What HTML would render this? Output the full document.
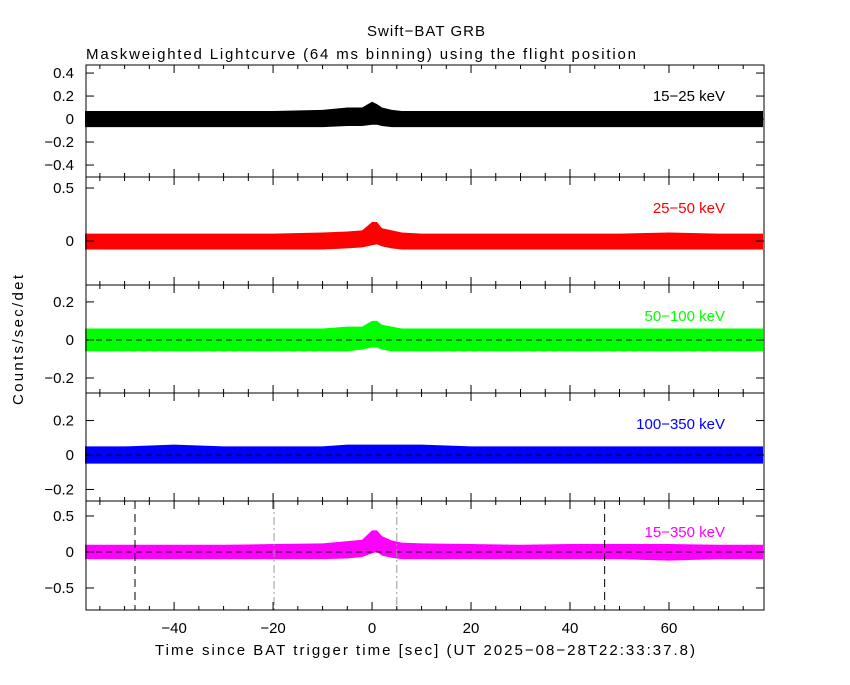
<!DOCTYPE html>
<html><head><meta charset="utf-8"><style>
body{margin:0;background:#fff}
svg text{font-family:"Liberation Sans",sans-serif;font-size:15px}
</style></head><body>
<svg id="c" width="850" height="680" xmlns="http://www.w3.org/2000/svg">
<rect width="850" height="680" fill="#fff"/>
<text x="367" y="36" textLength="118" lengthAdjust="spacing">Swift−BAT GRB</text>
<text x="86" y="59" textLength="550" lengthAdjust="spacing">Maskweighted Lightcurve (64 ms binning) using the flight position</text>
<text x="155" y="655" textLength="540" lengthAdjust="spacing">Time since BAT trigger time [sec] (UT 2025−08−28T22:33:37.8)</text>
<text transform="translate(23,405) rotate(-90)" textLength="130" lengthAdjust="spacing">Counts/sec/det</text>
</svg>
<script>
const times=[-58,-50,-40,-30,-20,-10,-5,-2,0,1,2,4,6,10,20,30,40,50,60,70,79];
const up1=[0.07,0.07,0.07,0.07,0.07,0.08,0.1,0.1,0.15,0.13,0.1,0.08,0.07,0.07,0.07,0.07,0.07,0.07,0.07,0.07,0.07];
const lo1=[-0.07,-0.07,-0.07,-0.07,-0.07,-0.07,-0.06,-0.06,-0.05,-0.05,-0.06,-0.07,-0.07,-0.07,-0.07,-0.07,-0.07,-0.07,-0.07,-0.07,-0.07];
const up2=[0.07,0.07,0.07,0.07,0.07,0.08,0.09,0.1,0.18,0.18,0.12,0.1,0.08,0.07,0.07,0.07,0.07,0.07,0.08,0.07,0.07];
const lo2=[-0.08,-0.08,-0.08,-0.08,-0.08,-0.08,-0.07,-0.06,-0.04,-0.03,-0.05,-0.07,-0.08,-0.08,-0.08,-0.08,-0.08,-0.08,-0.08,-0.08,-0.08];
const up3=[0.06,0.06,0.06,0.06,0.06,0.06,0.07,0.07,0.1,0.1,0.08,0.07,0.06,0.06,0.06,0.06,0.06,0.06,0.06,0.06,0.06];
const lo3=[-0.06,-0.06,-0.06,-0.06,-0.06,-0.06,-0.06,-0.05,-0.04,-0.04,-0.05,-0.06,-0.06,-0.06,-0.06,-0.06,-0.06,-0.06,-0.06,-0.06,-0.06];
const up4=[0.05,0.05,0.06,0.05,0.05,0.05,0.06,0.06,0.06,0.06,0.06,0.06,0.06,0.06,0.05,0.05,0.05,0.05,0.05,0.05,0.05];
const lo4=[-0.05,-0.05,-0.05,-0.05,-0.05,-0.05,-0.05,-0.05,-0.05,-0.05,-0.05,-0.05,-0.05,-0.05,-0.05,-0.05,-0.05,-0.05,-0.05,-0.05,-0.05];
const up5=[0.1,0.1,0.1,0.1,0.11,0.12,0.15,0.17,0.3,0.3,0.22,0.16,0.13,0.12,0.11,0.1,0.11,0.11,0.11,0.1,0.1];
const lo5=[-0.1,-0.1,-0.1,-0.1,-0.1,-0.1,-0.09,-0.07,-0.02,0,-0.05,-0.08,-0.1,-0.1,-0.1,-0.1,-0.1,-0.1,-0.12,-0.1,-0.1];
const labels=["15−25 keV","25−50 keV","50−100 keV","100−350 keV","15−350 keV"];
const colors=["#000","#f00","#0f0","#00f","#f0f"];
const yTicks=[[0.4,0.2,0,-0.2,-0.4],[0.5,0],[0.2,0,-0.2],[0.2,0,-0.2],[0.5,0,-0.5]];
const yTickLabels=[["0.4","0.2","0","−0.2","−0.4"],["0.5","0"],["0.2","0","−0.2"],["0.2","0","−0.2"],["0.5","0","−0.5"]];
const xTicks=[-40,-20,0,20,40,60];
const xTickLabels=["−40","−20","0","20","40","60"];
const vDash=[-47.9,47];
const vDashDot=[-19.8,5.0];
const panels=[{t:65,b:177,y0:0.47,y1:-0.504},{t:177,b:285,y0:0.604,y1:-0.415},{t:285,b:393,y0:0.289,y1:-0.279},{t:393,b:501,y0:0.36,y1:-0.267},{t:501,b:610,y0:0.708,y1:-0.806}];
const ups=[up1,up2,up3,up4,up5],los=[lo1,lo2,lo3,lo4,lo5];
const X0=86,X1=764,T0=-57.8,T1=79.2;
const xs=t=>X0+(t-T0)/(T1-T0)*(X1-X0);
const svg=document.getElementById('c');
const NS="http://www.w3.org/2000/svg";
function mk(tag,at){const e=document.createElementNS(NS,tag);for(const k in at)e.setAttribute(k,at[k]);svg.appendChild(e);return e;}
panels.forEach((p,i)=>{
  const ys=v=>p.t+(p.y0-v)/(p.y0-p.y1)*(p.b-p.t);
  let pts=times.map((t,j)=>xs(t)+","+ys(ups[i][j]));
  pts=pts.concat(times.map((t,j)=>xs(t)+","+ys(los[i][j])).reverse());
  const band=mk('polygon',{points:pts.join(" "),fill:colors[i]});
  
  
  if(i>=2){const z=mk('line',{x1:X0,x2:X1,y1:ys(0),y2:ys(0),stroke:'#000','stroke-dasharray':'6,4'});
    
    }
  if(i==4){
    vDash.forEach(t=>{const l=mk('line',{x1:xs(t),x2:xs(t),y1:p.t,y2:p.b,stroke:'#000','stroke-dasharray':'8,5'});
      
      });
    vDashDot.forEach(t=>{const l=mk('line',{x1:xs(t),x2:xs(t),y1:p.t,y2:p.b,stroke:'#999','stroke-dasharray':'8,3,2,3'});
      
      });
  }
  const fr=mk('rect',{x:X0,y:p.t,width:X1-X0,height:p.b-p.t,fill:'none',stroke:'#000'});
  
  
  yTicks[i].forEach((v,j)=>{
    mk('line',{x1:X0,x2:X0+8,y1:ys(v),y2:ys(v),stroke:'#000'});
    mk('line',{x1:X1,x2:X1-8,y1:ys(v),y2:ys(v),stroke:'#000'});
    const tx=mk('text',{x:X0-12,y:ys(v)+5,'text-anchor':'end'});tx.textContent=yTickLabels[i][j];
    
    
  });
  for(let t=-55;t<=75;t+=5){const big=t%20==0;const L=big?8:4;
    mk('line',{x1:xs(t),x2:xs(t),y1:p.b,y2:p.b-L,stroke:'#000'});
    mk('line',{x1:xs(t),x2:xs(t),y1:p.t,y2:p.t+L,stroke:'#000'});}
  const lb=mk('text',{x:725,y:p.t+36,'text-anchor':'end',fill:colors[i]});lb.textContent=labels[i];
  
  
});
xTicks.forEach((t,j)=>{const tx=mk('text',{x:xs(t),y:633,'text-anchor':'middle'});tx.textContent=xTickLabels[j];
  
  });
</script>
</body></html>
